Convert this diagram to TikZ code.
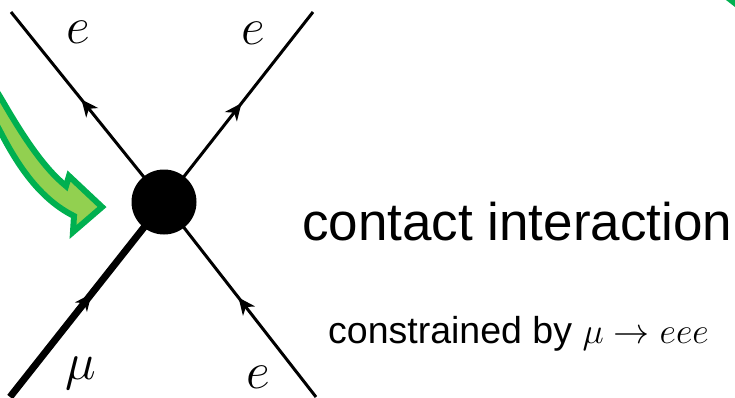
\RequirePackage{fix-cm}
\documentclass[tikz,border=0pt]{standalone}
\usepackage{fontspec}
\setmainfont{Liberation Sans}
\usetikzlibrary{arrows.meta,decorations.markings}
\definecolor{gdark}{HTML}{00B050}
\definecolor{glight}{HTML}{92D050}
\tikzset{
  fermion/.style={line width=#1, line cap=butt},
  arrowat/.style={postaction={decorate},
    decoration={markings, mark=at position #1 with {\arrow{Stealth[length=17pt,width=15pt,inset=5pt]}}}},
  lbl/.style={inner sep=0pt, font=\fontsize{52}{60}\selectfont},
  vertex/.style={circle, fill=black, minimum size=65pt, inner sep=0pt},
  bigtxt/.style={inner sep=0pt, anchor=base west, font=\fontsize{53}{62}\selectfont},
  smalltxt/.style={inner sep=0pt, anchor=base west, font=\fontsize{37.5}{44}\selectfont},
}
\newcommand{\mathbig}{\fontsize{36}{42}\selectfont}
\begin{document}
\begin{tikzpicture}[x=1pt,y=-1pt]
\useasboundingbox (0,0) rectangle (735,397);
% green curved arrow
\begin{scope}
  \clip (0,0) rectangle (735,397);
  \draw[gdark, line width=6pt, fill=glight, line join=miter]
    (-15,72) -- (2,100) .. controls (24,138) and (44,168) .. (66,186)
    -- (69,176) -- (102,207) -- (73,232) -- (74,216)
    .. controls (40,199) and (18,166) .. (0,131) -- (-18,98) -- cycle;
  \fill[gdark] (726,0) -- (735,0) -- (735,7) -- cycle;
\end{scope}
% vertex and legs
\coordinate (c) at (164,202);
\coordinate (ul) at (11,12);
\coordinate (ur) at (313,12);
\coordinate (ll) at (10,397);
\coordinate (lr) at (316,397);
\draw[fermion=3pt, arrowat=0.54] (c) -- (ul);
\draw[fermion=3pt, arrowat=0.52] (c) -- (ur);
\draw[fermion=7pt, arrowat=0.53] (ll) -- (c);
\draw[fermion=3pt, arrowat=0.51] (lr) -- (c);
\node[vertex] (v) at (c) {};
% labels
\node[lbl] (e1) at (78,32) {$e$};
\node[lbl] (e2) at (253,33) {$e$};
\node[lbl] (mu) at (81,373) {$\mu$};
\node[lbl] (e3) at (258,377) {$e$};
\node[bigtxt] (ci) at (302,240) {contact interaction};
\node[smalltxt] (cb) at (328,343) {constrained by {\mathbig$\mu \to eee$}};
\end{tikzpicture}
\end{document}
